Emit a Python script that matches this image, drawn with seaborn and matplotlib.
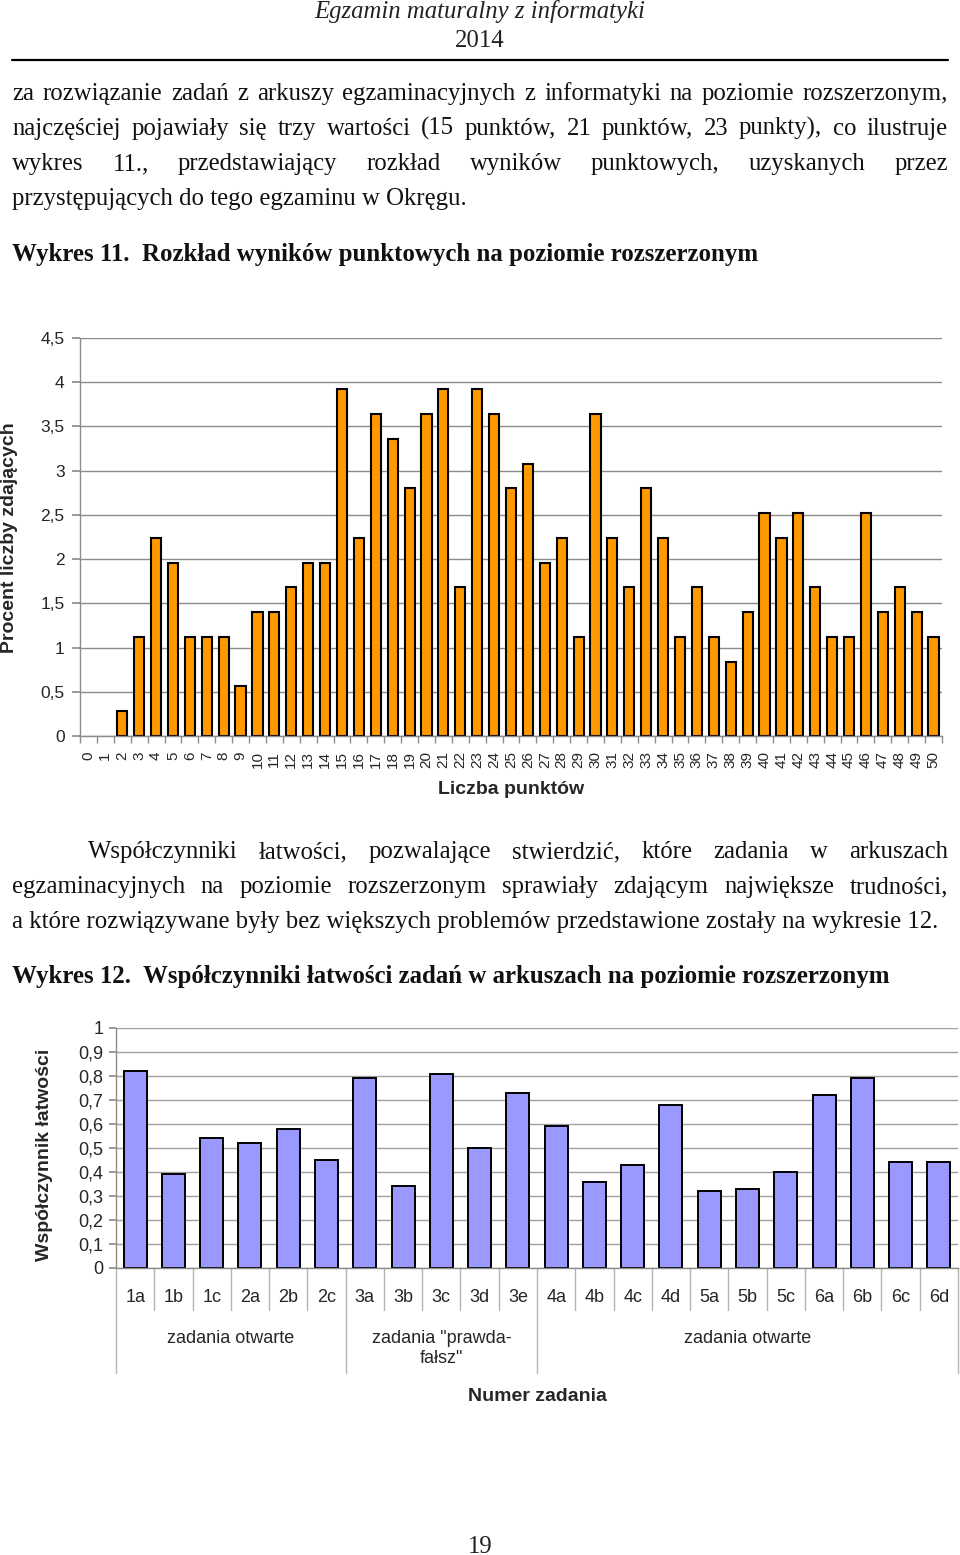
import matplotlib
matplotlib.use("Agg")
import matplotlib.pyplot as plt
import seaborn as sns
import pandas as pd
import numpy as np
from matplotlib.lines import Line2D
from matplotlib.transforms import blended_transform_factory

# ---------------- data ----------------
points = [str(i) for i in range(51)]
percent = [0, 0, 0.28, 1.12, 2.24, 1.96, 1.12, 1.12, 1.12, 0.56,
           1.40, 1.40, 1.68, 1.96, 1.96, 3.92, 2.24, 3.64, 3.36, 2.80,
           3.64, 3.92, 1.68, 3.92, 3.64, 2.80, 3.08, 1.96, 2.24, 1.12,
           3.64, 2.24, 1.68, 2.80, 2.24, 1.12, 1.68, 1.12, 0.84, 1.40,
           2.52, 2.24, 2.52, 1.68, 1.12, 1.12, 2.52, 1.40, 1.68, 1.40, 1.12]
yticks1 = [0, 0.5, 1, 1.5, 2, 2.5, 3, 3.5, 4, 4.5]
yticklabels1 = ["0", "0,5", "1", "1,5", "2", "2,5", "3", "3,5", "4", "4,5"]

tasks = ["1a", "1b", "1c", "2a", "2b", "2c", "3a", "3b", "3c", "3d", "3e",
         "4a", "4b", "4c", "4d", "5a", "5b", "5c", "6a", "6b", "6c", "6d"]
ease = [0.82, 0.39, 0.54, 0.52, 0.58, 0.45, 0.79, 0.34, 0.81, 0.50, 0.73,
        0.59, 0.36, 0.43, 0.68, 0.32, 0.33, 0.40, 0.72, 0.79, 0.44, 0.44]
groups = ["zadania otwarte", 'zadania "prawda-\nfałsz"', "zadania otwarte"]
group_sizes = [6, 5, 11]
yticks2 = [0, 0.1, 0.2, 0.3, 0.4, 0.5, 0.6, 0.7, 0.8, 0.9, 1]
yticklabels2 = ["0", "0,1", "0,2", "0,3", "0,4", "0,5", "0,6", "0,7", "0,8", "0,9", "1"]

# ---------------- page text ----------------
header1 = "Egzamin maturalny z informatyki"
header2 = "2014"
para1 = ["za rozwiązanie zadań z arkuszy egzaminacyjnych z informatyki na poziomie rozszerzonym,",
         "najczęściej pojawiały się trzy wartości (15 punktów, 21 punktów, 23 punkty), co ilustruje",
         "wykres 11., przedstawiający rozkład wyników punktowych, uzyskanych przez",
         "przystępujących do tego egzaminu w Okręgu."]
title1 = "Wykres 11.  Rozkład wyników punktowych na poziomie rozszerzonym"
para2 = ["Współczynniki łatwości, pozwalające stwierdzić, które zadania w arkuszach",
         "egzaminacyjnych na poziomie rozszerzonym sprawiały zdającym największe trudności,",
         "a które rozwiązywane były bez większych problemów przedstawione zostały na wykresie 12."]
title2 = "Wykres 12.  Współczynniki łatwości zadań w arkuszach na poziomie rozszerzonym"
page_no = "19"

W, H = 960, 1555
sns.set_theme(style="white")
plt.rcParams["font.family"] = ["Liberation Sans", "DejaVu Sans"]
SERIF = ["Liberation Serif", "DejaVu Serif"]

fig = plt.figure(figsize=(W / 100, H / 100), dpi=100)
fig.patch.set_facecolor("white")
renderer = fig.canvas.get_renderer()


def fx(x):
    return x / W


def fy(y):
    return 1 - y / H


def fit_size(text, target, **kw):
    t = fig.text(0, 0, text, fontsize=20, **kw)
    w = t.get_window_extent(renderer).width
    t.remove()
    return 20 * target / w


def line(text, y, x0, x1=None, **kw):
    if x1 is None:
        fig.text(fx(x0), fy(y), text, va="baseline", ha="left", **kw)
        return
    words = text.split()
    objs = [fig.text(0, fy(y), w, va="baseline", ha="left", **kw) for w in words]
    widths = [o.get_window_extent(renderer).width for o in objs]
    gap = (x1 - x0 - sum(widths)) / (len(words) - 1)
    x = x0
    for o, w in zip(objs, widths):
        o.set_x(fx(x))
        x += w + gap


body_fs = fit_size(para1[3], 454, family=SERIF)
title_fs = fit_size(title1, 744, family=SERIF, fontweight="bold")

fig.text(0.5, fy(18), header1, ha="center", va="baseline", family=SERIF,
         style="italic", fontsize=body_fs, color="#222222")
fig.text(0.5, fy(47), header2, ha="center", va="baseline", family=SERIF,
         fontsize=body_fs, color="#222222")
fig.add_artist(Line2D([fx(12), fx(948)], [fy(60), fy(60)], lw=1.6, color="black"))

tk = dict(family=SERIF, fontsize=body_fs, color="#111111")
line(para1[0], 100, 12, 948, **tk)
line(para1[1], 135, 12, 948, **tk)
line(para1[2], 170, 12, 948, **tk)
line(para1[3], 205, 12, **tk)
line(title1, 261, 12, family=SERIF, fontsize=title_fs, fontweight="bold", color="#111111")

line(para2[0], 858, 88, 948, **tk)
line(para2[1], 893, 12, 948, **tk)
line(para2[2], 928, 12, **tk)
line(title2, 983, 12, family=SERIF, fontsize=title_fs, fontweight="bold", color="#111111")

fig.text(0.5, fy(1553), page_no, ha="center", va="baseline", family=SERIF,
         fontsize=body_fs, color="#222222")

GRID = "#8c8c8c"

# ---------------- chart 1 ----------------
ax1 = fig.add_axes([fx(80), fy(736), (942 - 80) / W, (736 - 338) / H])
df1 = pd.DataFrame({"points": points, "percent": percent})
sns.barplot(data=df1, x="points", y="percent", order=points, color="#FF9900",
            saturation=1, edgecolor="black", linewidth=1.5, width=0.6, ax=ax1)
for p in ax1.patches:
    if p.get_height() == 0:
        p.set_visible(False)
ax1.set_xlim(-0.5, len(points) - 0.5)
ax1.set_ylim(yticks1[0], yticks1[-1])
ax1.set_yticks(yticks1)
ax1.set_yticklabels(yticklabels1)
ax1.grid(axis="y", color=GRID, lw=1)
ax1.grid(axis="x", visible=False)
ax1.set_axisbelow(True)
for s in ["top", "right"]:
    ax1.spines[s].set_visible(False)
for s in ["left", "bottom"]:
    ax1.spines[s].set_color(GRID)
    ax1.spines[s].set_linewidth(1)
ax1.tick_params(axis="y", left=True, length=6, color=GRID, labelsize=12.5, pad=5)
ax1.set_xticks(range(len(points)))
ax1.set_xticklabels(points, rotation=90)
ax1.tick_params(axis="x", which="major", bottom=True, length=0, labelsize=11, pad=11)
ax1.set_xticks(np.arange(-0.5, len(points), 1), minor=True)
ax1.tick_params(axis="x", which="minor", bottom=True, length=5, color=GRID, width=1)
ax1.set_xlabel("")
ax1.set_ylabel("")
fig.text(fx(511), fy(794), "Liczba punktów", ha="center", va="baseline",
         fontsize=14, fontweight="bold")
fig.text(fx(10), fy(538), "Procent liczby zdających", ha="center", va="center",
         rotation=90, fontsize=14, fontweight="bold")

# ---------------- chart 2 ----------------
ax2 = fig.add_axes([fx(116), fy(1268), (958 - 116) / W, (1268 - 1028) / H])
df2 = pd.DataFrame({"task": tasks, "ease": ease})
sns.barplot(data=df2, x="task", y="ease", order=tasks, color="#9999FF",
            saturation=1, edgecolor="black", linewidth=1.4, width=0.6, ax=ax2)
ax2.set_xlim(-0.5, len(tasks) - 0.5)
ax2.set_ylim(yticks2[0], yticks2[-1])
ax2.set_yticks(yticks2)
ax2.set_yticklabels(yticklabels2)
ax2.grid(axis="y", color="#a0a0a0", lw=1)
ax2.grid(axis="x", visible=False)
ax2.set_axisbelow(True)
for s in ["top", "right"]:
    ax2.spines[s].set_visible(False)
for s in ["left", "bottom"]:
    ax2.spines[s].set_color(GRID)
    ax2.spines[s].set_linewidth(1)
ax2.tick_params(axis="y", left=True, length=5, color=GRID, labelsize=13, pad=4)
ax2.tick_params(axis="x", bottom=False, length=0, labelsize=13, pad=15)
ax2.set_xlabel("")
ax2.set_ylabel("")

ah = 1268 - 1028
trans = blended_transform_factory(ax2.transData, ax2.transAxes)
bounds = np.cumsum([0] + group_sizes)
for b in range(len(tasks) + 1):
    depth = 105 if b in bounds else 42
    ax2.add_line(Line2D([b - 0.5, b - 0.5], [0, -depth / ah], transform=trans,
                        color="#b4b4b4", lw=1, clip_on=False))
for g, start, size in zip(groups, bounds[:-1], group_sizes):
    ax2.text(start + size / 2 - 0.5, -(1330 - 1268) / ah, g, transform=trans,
             ha="center", va="top", fontsize=13, linespacing=1.25)
fig.text(fx(537), fy(1401), "Numer zadania", ha="center", va="baseline",
         fontsize=14, fontweight="bold")
fig.text(fx(45), fy(1155), "Współczynnik łatwości", ha="center", va="center",
         rotation=90, fontsize=14, fontweight="bold")

fig.savefig("out.png", dpi=100, facecolor="white")
